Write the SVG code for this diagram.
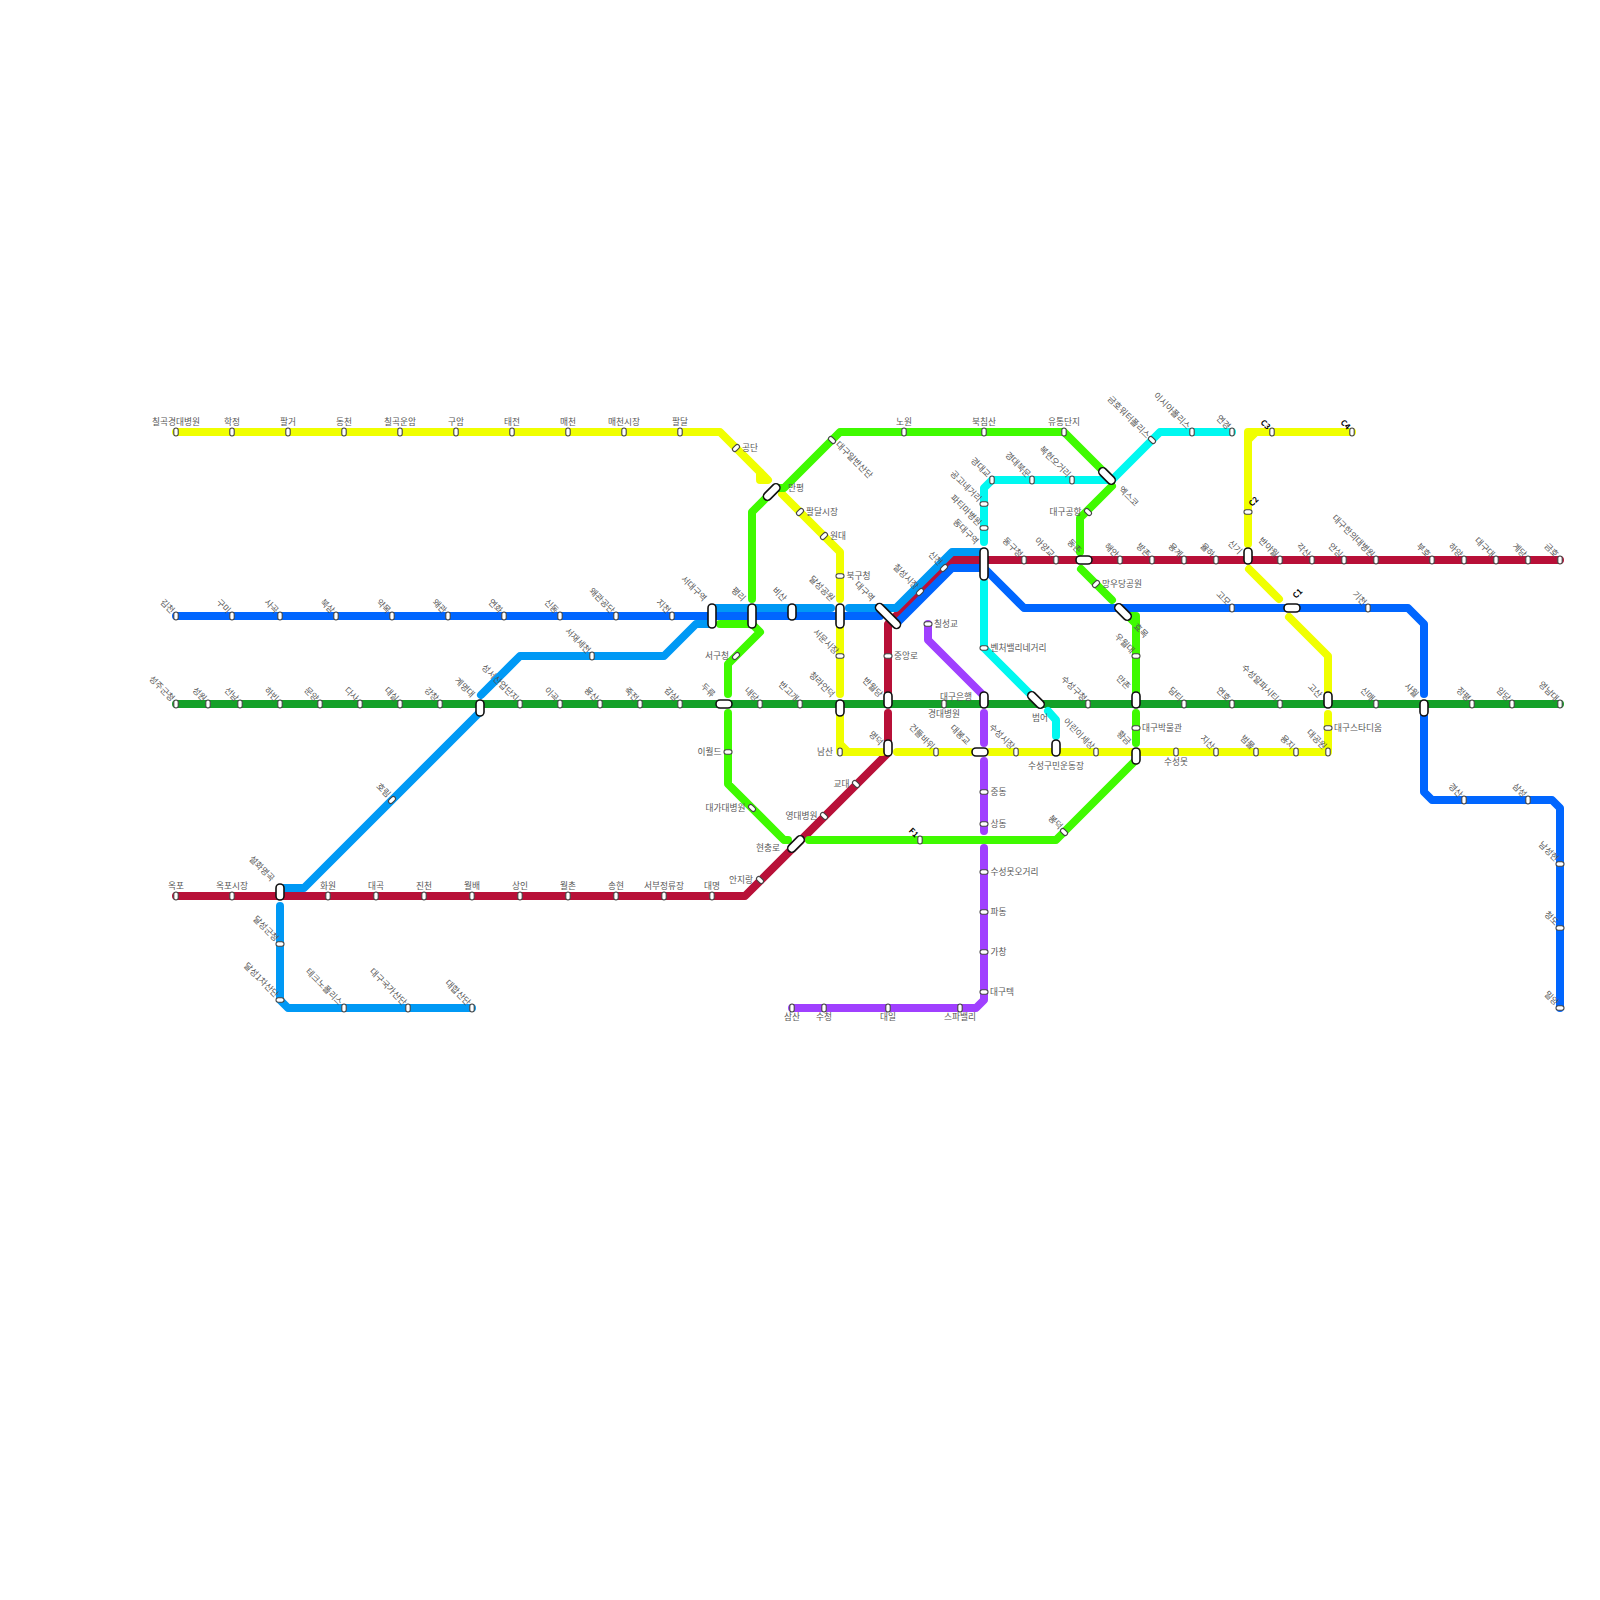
<svg xmlns="http://www.w3.org/2000/svg" width="1600" height="1600" viewBox="0 0 1600 1600">
<style>
text{font-family:"Noto Sans CJK KR","Noto Sans",sans-serif;font-size:8.7px;fill:#555;opacity:.99}
.m{text-anchor:middle}.e{text-anchor:end}
.k{fill:#000;font-weight:700;font-size:8px}
.ln{fill:none;stroke-width:8;stroke-linecap:round;stroke-linejoin:round}
.sm{fill:#fff;stroke:#444;stroke-width:1.1}
.ic{fill:#fff;stroke:#111;stroke-width:1.6}
</style>
<defs>
<rect id="s" class="sm" x="-2.2" y="-4" width="4.4" height="8" rx="2.2"/>
<rect id="p16" class="ic" x="-4" y="-8" width="8" height="16" rx="4"/>
<rect id="p20" class="ic" x="-4" y="-10" width="8" height="20" rx="4"/>
<rect id="p24" class="ic" x="-4" y="-12" width="8" height="24" rx="4"/>
<rect id="p32" class="ic" x="-4" y="-16" width="8" height="32" rx="4"/>
</defs>
<rect width="1600" height="1600" fill="#fff"/>
<g id="connectors">
<path class="ln" stroke="#b81038" d="M176 896H745L888 753V713M888 692V624L952 560H1560"/>
<path class="ln" stroke="#0099f5" d="M472 1008H288L280 1000V906M280 888H304L480 712M481 695L520 656H664L696 624H712M716 608H831M849 608H896L952 552H984"/>
<path class="ln" stroke="#0066ff" d="M176 616H880M896 624L952 568H984L1024 608H1408L1424 624V694M1424 716V792L1432 800H1552L1560 808V1008"/>
<path class="ln" stroke="#14a028" d="M176 704H1560"/>
<path class="ln" stroke="#f0ff00" d="M176 432H720L768 480H760V472M782 494L840 552V599M840 626V694M840 716V744L848 752H840V744M848 752H882M897 752H970M990 752H1328V714M1328 692V656L1289 617M1279 599L1249 569M1248 544V440L1256 432H1352M1256 432H1248V440"/>
<path class="ln" stroke="#3ffa00" d="M752 599V512L772 492M776 488H784L840 432H1064L1108 476M1112 486L1080 518V552M1081 569L1112 600M1136 692V616H1128L1136 624V692M1136 713V743M1136 760L1056 840H809M788 840H784L728 784V713M728 694V664L760 632L752 624H720"/>
<path class="ln" stroke="#00f8f0" d="M1232 432H1160L1112 480H992L984 488V542M984 582V648L1032 696M1048 711L1056 720V736"/>
<path class="ln" stroke="#a040ff" d="M928 624V640L982 694M984 713V743M984 761V831M984 848V1000L976 1008H792"/>
</g>
<g id="stations">
<g id="n1"><use href="#s" x="176" y="432"/><text class="m" x="176" y="425">칠곡경대병원</text></g>
<g id="n2"><use href="#s" x="232" y="432"/><text class="m" x="232" y="425">학정</text></g>
<g id="n3"><use href="#s" x="288" y="432"/><text class="m" x="288" y="425">팔거</text></g>
<g id="n4"><use href="#s" x="344" y="432"/><text class="m" x="344" y="425">동천</text></g>
<g id="n5"><use href="#s" x="400" y="432"/><text class="m" x="400" y="425">칠곡운암</text></g>
<g id="n6"><use href="#s" x="456" y="432"/><text class="m" x="456" y="425">구암</text></g>
<g id="n7"><use href="#s" x="512" y="432"/><text class="m" x="512" y="425">태전</text></g>
<g id="n8"><use href="#s" x="568" y="432"/><text class="m" x="568" y="425">매천</text></g>
<g id="n9"><use href="#s" x="624" y="432"/><text class="m" x="624" y="425">매천시장</text></g>
<g id="n10"><use href="#s" x="680" y="432"/><text class="m" x="680" y="425">팔달</text></g>
<g id="n11"><use href="#s" transform="translate(736 448) rotate(45)"/><text x="742" y="451">공단</text></g>
<g id="n12"><use href="#p20" transform="translate(771.7 492) rotate(45)"/><text x="788" y="491">만평</text></g>
<g id="n13"><use href="#s" transform="translate(800 512) rotate(45)"/><text x="806" y="515">팔달시장</text></g>
<g id="n14"><use href="#s" transform="translate(824 536) rotate(45)"/><text x="830" y="539">원대</text></g>
<g id="n15"><use href="#s" transform="translate(840 576) rotate(90)"/><text x="846.5" y="579">북구청</text></g>
<g id="n16"><use href="#p24" x="840" y="616"/><text class="e" transform="translate(831 602) rotate(45)">달성공원</text></g>
<g id="n17"><use href="#s" transform="translate(840 656) rotate(90)"/><text class="e" transform="translate(835 655) rotate(45)">서문시장</text></g>
<g id="n18"><use href="#p16" x="840" y="708"/><text class="e" transform="translate(831 698) rotate(45)">청라언덕</text></g>
<g id="n19"><use href="#s" x="840" y="752"/><text class="e" x="833" y="755">남산</text></g>
<g id="n20"><use href="#p16" x="888" y="748"/><text class="e" transform="translate(879.5 746) rotate(45)">명덕</text></g>
<g id="n21"><use href="#s" x="936" y="752"/><text class="e" transform="translate(931 750) rotate(45)">건들바위</text></g>
<g id="n22"><use href="#p16" transform="translate(980 752) rotate(90)"/><text class="e" transform="translate(966.5 745.5) rotate(45)">대봉교</text></g>
<g id="n23"><use href="#s" x="1016" y="752"/><text class="e" transform="translate(1011 750) rotate(45)">수성시장</text></g>
<g id="n24"><use href="#p16" x="1056" y="748"/><text class="m" x="1056" y="769">수성구민운동장</text></g>
<g id="n25"><use href="#s" x="1096" y="752"/><text class="e" transform="translate(1091 750) rotate(45)">어린이세상</text></g>
<g id="n26"><use href="#p16" x="1136" y="756"/><text class="e" transform="translate(1127.5 745.5) rotate(45)">황금</text></g>
<g id="n27"><use href="#s" x="1176" y="752"/><text class="m" x="1176" y="765">수성못</text></g>
<g id="n28"><use href="#s" x="1216" y="752"/><text class="e" transform="translate(1211 750) rotate(45)">지산</text></g>
<g id="n29"><use href="#s" x="1256" y="752"/><text class="e" transform="translate(1251 750) rotate(45)">범물</text></g>
<g id="n30"><use href="#s" x="1296" y="752"/><text class="e" transform="translate(1291 750) rotate(45)">용지</text></g>
<g id="n31"><use href="#s" x="1328" y="752"/><text class="e" transform="translate(1323 750) rotate(45)">대공원</text></g>
<g id="n32"><use href="#s" transform="translate(1328 728) rotate(90)"/><text x="1334" y="731">대구스타디움</text></g>
<g id="n33"><use href="#p16" x="1328" y="700"/><text class="e" transform="translate(1318.5 698.5) rotate(45)">고산</text></g>
<g id="n34"><use href="#p16" transform="translate(1292 608) rotate(90)"/><text class="k" transform="translate(1296 599) rotate(-45)">C1</text></g>
<g id="n35"><use href="#p16" x="1248" y="556"/><text class="e" transform="translate(1238.5 555) rotate(45)">신기</text></g>
<g id="n36"><use href="#s" transform="translate(1248 512) rotate(90)"/><text class="k" transform="translate(1252 507) rotate(-45)">C2</text></g>
<g id="n37"><use href="#s" x="1272" y="432"/><text class="k e" transform="translate(1267 430) rotate(45)">C3</text></g>
<g id="n38"><use href="#s" x="1352" y="432"/><text class="k e" transform="translate(1347 430) rotate(45)">C4</text></g>
<g id="n40"><use href="#s" x="176" y="616"/><text class="e" transform="translate(171 614) rotate(45)">김천</text></g>
<g id="n41"><use href="#s" x="232" y="616"/><text class="e" transform="translate(227 614) rotate(45)">구미</text></g>
<g id="n42"><use href="#s" x="280" y="616"/><text class="e" transform="translate(275 614) rotate(45)">사곡</text></g>
<g id="n43"><use href="#s" x="336" y="616"/><text class="e" transform="translate(331 614) rotate(45)">북삼</text></g>
<g id="n44"><use href="#s" x="392" y="616"/><text class="e" transform="translate(387 614) rotate(45)">약목</text></g>
<g id="n45"><use href="#s" x="448" y="616"/><text class="e" transform="translate(443 614) rotate(45)">왜관</text></g>
<g id="n46"><use href="#s" x="504" y="616"/><text class="e" transform="translate(499 614) rotate(45)">연화</text></g>
<g id="n47"><use href="#s" x="560" y="616"/><text class="e" transform="translate(555 614) rotate(45)">신동</text></g>
<g id="n48"><use href="#s" x="616" y="616"/><text class="e" transform="translate(611 614) rotate(45)">왜관공단</text></g>
<g id="n49"><use href="#s" x="672" y="616"/><text class="e" transform="translate(667 614) rotate(45)">지천</text></g>
<g id="n50"><use href="#p24" x="712" y="616"/><text class="e" transform="translate(703 602) rotate(45)">서대구역</text></g>
<g id="n51"><use href="#p24" x="752" y="616"/><text class="e" transform="translate(742 602) rotate(45)">평리</text></g>
<g id="n52"><use href="#p16" x="792" y="612"/><text class="e" transform="translate(783 602) rotate(45)">비산</text></g>
<g id="n53"><use href="#p32" transform="translate(888 616) rotate(-45)"/><text class="e" transform="translate(871 602) rotate(45)">대구역</text></g>
<g id="n54"><use href="#s" transform="translate(920 592) rotate(45)"/><text class="e" transform="translate(915 590) rotate(45)">칠성시장</text></g>
<g id="n55"><use href="#s" transform="translate(944 568) rotate(45)"/><text class="e" transform="translate(939 566) rotate(45)">신천</text></g>
<g id="n56"><use href="#p32" x="984" y="564"/><text class="e" transform="translate(975 545) rotate(45)">동대구역</text></g>
<g id="n57"><use href="#s" x="1024" y="560"/><text class="e" transform="translate(1019 558) rotate(45)">동구청</text></g>
<g id="n58"><use href="#s" x="1056" y="560"/><text class="e" transform="translate(1051 558) rotate(45)">아양교</text></g>
<g id="n59"><use href="#p16" transform="translate(1084 560) rotate(90)"/><text class="e" transform="translate(1078 554) rotate(45)">동촌</text></g>
<g id="n60"><use href="#s" x="1120" y="560"/><text class="e" transform="translate(1115 558) rotate(45)">해안</text></g>
<g id="n61"><use href="#s" x="1152" y="560"/><text class="e" transform="translate(1147 558) rotate(45)">방촌</text></g>
<g id="n62"><use href="#s" x="1184" y="560"/><text class="e" transform="translate(1179 558) rotate(45)">용계</text></g>
<g id="n63"><use href="#s" x="1216" y="560"/><text class="e" transform="translate(1211 558) rotate(45)">율하</text></g>
<g id="n64"><use href="#s" x="1280" y="560"/><text class="e" transform="translate(1275 558) rotate(45)">반야월</text></g>
<g id="n65"><use href="#s" x="1312" y="560"/><text class="e" transform="translate(1307 558) rotate(45)">각산</text></g>
<g id="n66"><use href="#s" x="1344" y="560"/><text class="e" transform="translate(1339 558) rotate(45)">안심</text></g>
<g id="n67"><use href="#s" x="1376" y="560"/><text class="e" transform="translate(1371 558) rotate(45)">대구한의대병원</text></g>
<g id="n68"><use href="#s" x="1432" y="560"/><text class="e" transform="translate(1427 558) rotate(45)">부호</text></g>
<g id="n69"><use href="#s" x="1464" y="560"/><text class="e" transform="translate(1459 558) rotate(45)">하양</text></g>
<g id="n70"><use href="#s" x="1496" y="560"/><text class="e" transform="translate(1491 558) rotate(45)">대구대</text></g>
<g id="n71"><use href="#s" x="1528" y="560"/><text class="e" transform="translate(1523 558) rotate(45)">계당</text></g>
<g id="n72"><use href="#s" x="1560" y="560"/><text class="e" transform="translate(1555 558) rotate(45)">금호</text></g>
<g id="n73"><use href="#s" x="1232" y="608"/><text class="e" transform="translate(1227 606) rotate(45)">고모</text></g>
<g id="n74"><use href="#s" x="1368" y="608"/><text class="e" transform="translate(1363 606) rotate(45)">기천</text></g>
<g id="n75"><use href="#p16" x="1424" y="708"/><text class="e" transform="translate(1415 698) rotate(45)">사월</text></g>
<g id="n76"><use href="#s" x="1464" y="800"/><text class="e" transform="translate(1459 798) rotate(45)">경산</text></g>
<g id="n77"><use href="#s" x="1528" y="800"/><text class="e" transform="translate(1523 798) rotate(45)">삼성</text></g>
<g id="n78"><use href="#s" transform="translate(1560 864) rotate(90)"/><text class="e" transform="translate(1555 862) rotate(45)">남성현</text></g>
<g id="n79"><use href="#s" transform="translate(1560 928) rotate(90)"/><text class="e" transform="translate(1555 926) rotate(45)">청도</text></g>
<g id="n80"><use href="#s" transform="translate(1560 1008) rotate(90)"/><text class="e" transform="translate(1555 1006) rotate(45)">밀양</text></g>
<g id="n81"><use href="#s" x="176" y="704"/><text class="e" transform="translate(171 702) rotate(45)">성주군청</text></g>
<g id="n82"><use href="#s" x="208" y="704"/><text class="e" transform="translate(203 702) rotate(45)">성원</text></g>
<g id="n83"><use href="#s" x="240" y="704"/><text class="e" transform="translate(235 702) rotate(45)">선남</text></g>
<g id="n84"><use href="#s" x="280" y="704"/><text class="e" transform="translate(275 702) rotate(45)">하빈</text></g>
<g id="n85"><use href="#s" x="320" y="704"/><text class="e" transform="translate(315 702) rotate(45)">문양</text></g>
<g id="n86"><use href="#s" x="360" y="704"/><text class="e" transform="translate(355 702) rotate(45)">다사</text></g>
<g id="n87"><use href="#s" x="400" y="704"/><text class="e" transform="translate(395 702) rotate(45)">대실</text></g>
<g id="n88"><use href="#s" x="440" y="704"/><text class="e" transform="translate(435 702) rotate(45)">강창</text></g>
<g id="n89"><use href="#p16" x="480" y="708"/><text class="e" transform="translate(471 698) rotate(45)">계명대</text></g>
<g id="n90"><use href="#s" x="520" y="704"/><text class="e" transform="translate(515 702) rotate(45)">성서산업단지</text></g>
<g id="n91"><use href="#s" x="560" y="704"/><text class="e" transform="translate(555 702) rotate(45)">이곡</text></g>
<g id="n92"><use href="#s" x="600" y="704"/><text class="e" transform="translate(595 702) rotate(45)">용산</text></g>
<g id="n93"><use href="#s" x="640" y="704"/><text class="e" transform="translate(635 702) rotate(45)">죽전</text></g>
<g id="n94"><use href="#s" x="680" y="704"/><text class="e" transform="translate(675 702) rotate(45)">감삼</text></g>
<g id="n95"><use href="#p16" transform="translate(724 704) rotate(90)"/><text class="e" transform="translate(711.5 698) rotate(45)">두류</text></g>
<g id="n96"><use href="#s" x="760" y="704"/><text class="e" transform="translate(755 702) rotate(45)">내당</text></g>
<g id="n97"><use href="#s" x="800" y="704"/><text class="e" transform="translate(795 702) rotate(45)">반고개</text></g>
<g id="n98"><use href="#p16" x="888" y="700"/><text class="e" transform="translate(879 698) rotate(45)">반월당</text></g>
<g id="n99"><use href="#s" x="944" y="704"/><text class="m" x="944" y="717">경대병원</text></g>
<g id="n100"><use href="#p16" x="984" y="700"/><text class="m" x="956" y="699.5">대구은행</text></g>
<g id="n101"><use href="#p20" transform="translate(1036 700) rotate(-45)"/><text class="m" x="1040" y="721">범어</text></g>
<g id="n102"><use href="#s" x="1088" y="704"/><text class="e" transform="translate(1083 702) rotate(45)">수성구청</text></g>
<g id="n103"><use href="#p16" x="1136" y="700"/><text class="e" transform="translate(1127 690) rotate(45)">만촌</text></g>
<g id="n104"><use href="#s" x="1184" y="704"/><text class="e" transform="translate(1179 702) rotate(45)">담티</text></g>
<g id="n105"><use href="#s" x="1232" y="704"/><text class="e" transform="translate(1227 702) rotate(45)">연호</text></g>
<g id="n106"><use href="#s" x="1280" y="704"/><text class="e" transform="translate(1275 702) rotate(45)">수성알파시티</text></g>
<g id="n107"><use href="#s" x="1376" y="704"/><text class="e" transform="translate(1371 702) rotate(45)">신매</text></g>
<g id="n108"><use href="#s" x="1472" y="704"/><text class="e" transform="translate(1467 702) rotate(45)">정평</text></g>
<g id="n109"><use href="#s" x="1512" y="704"/><text class="e" transform="translate(1507 702) rotate(45)">임당</text></g>
<g id="n110"><use href="#s" x="1560" y="704"/><text class="e" transform="translate(1555 702) rotate(45)">영남대</text></g>
<g id="n111"><use href="#s" x="176" y="896"/><text class="m" x="176" y="889">옥포</text></g>
<g id="n112"><use href="#s" x="232" y="896"/><text class="m" x="232" y="889">옥포시장</text></g>
<g id="n113"><use href="#p16" x="280" y="892"/><text class="e" transform="translate(271 882) rotate(45)">설화명곡</text></g>
<g id="n114"><use href="#s" x="328" y="896"/><text class="m" x="328" y="889">화원</text></g>
<g id="n115"><use href="#s" x="376" y="896"/><text class="m" x="376" y="889">대곡</text></g>
<g id="n116"><use href="#s" x="424" y="896"/><text class="m" x="424" y="889">진천</text></g>
<g id="n117"><use href="#s" x="472" y="896"/><text class="m" x="472" y="889">월배</text></g>
<g id="n118"><use href="#s" x="520" y="896"/><text class="m" x="520" y="889">상인</text></g>
<g id="n119"><use href="#s" x="568" y="896"/><text class="m" x="568" y="889">월촌</text></g>
<g id="n120"><use href="#s" x="616" y="896"/><text class="m" x="616" y="889">송현</text></g>
<g id="n121"><use href="#s" x="664" y="896"/><text class="m" x="664" y="889">서부정류장</text></g>
<g id="n122"><use href="#s" x="712" y="896"/><text class="m" x="712" y="889">대명</text></g>
<g id="n123"><use href="#s" transform="translate(760 880) rotate(-45)"/><text class="e" x="753" y="883">안지랑</text></g>
<g id="n124"><use href="#p20" transform="translate(796 844) rotate(45)"/><text class="e" x="780" y="851">현충로</text></g>
<g id="n125"><use href="#s" transform="translate(824 816) rotate(-45)"/><text class="e" x="817.5" y="819">영대병원</text></g>
<g id="n126"><use href="#s" transform="translate(856 784) rotate(-45)"/><text class="e" x="849.5" y="787">교대</text></g>
<g id="n127"><use href="#s" transform="translate(888 656) rotate(90)"/><text x="894" y="659">중앙로</text></g>
<g id="n130"><use href="#s" transform="translate(280 944) rotate(90)"/><text class="e" transform="translate(275 942) rotate(45)">달성군청</text></g>
<g id="n131"><use href="#s" transform="translate(280 1000) rotate(90)"/><text class="e" transform="translate(275 998) rotate(45)">달성1차산단</text></g>
<g id="n132"><use href="#s" x="344" y="1008"/><text class="e" transform="translate(339 1006) rotate(45)">테크노폴리스</text></g>
<g id="n133"><use href="#s" x="408" y="1008"/><text class="e" transform="translate(403 1006) rotate(45)">대구국가산단</text></g>
<g id="n134"><use href="#s" x="472" y="1008"/><text class="e" transform="translate(467 1006) rotate(45)">대합산단</text></g>
<g id="n135"><use href="#s" transform="translate(392 800) rotate(45)"/><text class="e" transform="translate(387 798) rotate(45)">호림</text></g>
<g id="n136"><use href="#s" x="592" y="656"/><text class="e" transform="translate(587 654) rotate(45)">서재세천</text></g>
<g id="n140"><use href="#s" transform="translate(832 440) rotate(-45)"/><text transform="translate(835 445) rotate(45)">대구일반산단</text></g>
<g id="n141"><use href="#s" x="904" y="432"/><text class="m" x="904" y="425">노원</text></g>
<g id="n142"><use href="#s" x="984" y="432"/><text class="m" x="984" y="425">북침산</text></g>
<g id="n143"><use href="#s" x="1064" y="432"/><text class="m" x="1064" y="425">유통단지</text></g>
<g id="n144"><use href="#p20" transform="translate(1107 476) rotate(-45)"/><text transform="translate(1118 490) rotate(45)">엑스코</text></g>
<g id="n145"><use href="#s" transform="translate(1088 512) rotate(-45)"/><text class="e" x="1081.5" y="515">대구공항</text></g>
<g id="n146"><use href="#s" transform="translate(1096 584) rotate(45)"/><text x="1102" y="587">망우당공원</text></g>
<g id="n147"><use href="#p20" transform="translate(1123 612) rotate(-45)"/><text transform="translate(1133 627) rotate(45)">효목</text></g>
<g id="n148"><use href="#s" transform="translate(1136 656) rotate(90)"/><text class="e" transform="translate(1131 654) rotate(45)">우월대</text></g>
<g id="n149"><use href="#s" transform="translate(1136 728) rotate(90)"/><text x="1142" y="731">대구박물관</text></g>
<g id="n150"><use href="#s" transform="translate(1064 832) rotate(-45)"/><text class="e" transform="translate(1059 830) rotate(45)">봉덕</text></g>
<g id="n151"><use href="#s" x="920" y="840"/><text class="k e" transform="translate(915 838) rotate(45)">F1</text></g>
<g id="n152"><use href="#s" transform="translate(752 808) rotate(-45)"/><text class="e" x="745.5" y="811">대가대병원</text></g>
<g id="n153"><use href="#s" transform="translate(728 752) rotate(90)"/><text class="e" x="721.5" y="755">이월드</text></g>
<g id="n154"><use href="#s" transform="translate(736 656) rotate(45)"/><text class="e" x="729" y="659">서구청</text></g>
<g id="n160"><use href="#s" x="1232" y="432"/><text class="e" transform="translate(1227 430) rotate(45)">연경</text></g>
<g id="n161"><use href="#s" x="1192" y="432"/><text class="e" transform="translate(1187 430) rotate(45)">이시아폴리스</text></g>
<g id="n162"><use href="#s" transform="translate(1152 440) rotate(-45)"/><text class="e" transform="translate(1146.5 439) rotate(45)">금호워터폴리스</text></g>
<g id="n163"><use href="#s" x="1072" y="480"/><text class="e" transform="translate(1067 478) rotate(45)">복현오거리</text></g>
<g id="n164"><use href="#s" x="1032" y="480"/><text class="e" transform="translate(1027 478) rotate(45)">경대북문</text></g>
<g id="n165"><use href="#s" x="992" y="480"/><text class="e" transform="translate(987 478) rotate(45)">경대교</text></g>
<g id="n166"><use href="#s" transform="translate(984 504) rotate(90)"/><text class="e" transform="translate(978 502.5) rotate(45)">공고네거리</text></g>
<g id="n167"><use href="#s" transform="translate(984 528) rotate(90)"/><text class="e" transform="translate(978 526.5) rotate(45)">파티마병원</text></g>
<g id="n168"><use href="#s" transform="translate(984 648) rotate(90)"/><text x="990.5" y="651">벤처밸리네거리</text></g>
<g id="n170"><use href="#s" transform="translate(928 624) rotate(90)"/><text x="934" y="627">칠성교</text></g>
<g id="n171"><use href="#s" transform="translate(984 792) rotate(90)"/><text x="990.5" y="795">중동</text></g>
<g id="n172"><use href="#s" transform="translate(984 824) rotate(90)"/><text x="990.5" y="827">상동</text></g>
<g id="n173"><use href="#s" transform="translate(984 872) rotate(90)"/><text x="990.5" y="875">수성못오거리</text></g>
<g id="n174"><use href="#s" transform="translate(984 912) rotate(90)"/><text x="990.5" y="915">파동</text></g>
<g id="n175"><use href="#s" transform="translate(984 952) rotate(90)"/><text x="990.5" y="955">가창</text></g>
<g id="n176"><use href="#s" transform="translate(984 992) rotate(90)"/><text x="990" y="995">대구텍</text></g>
<g id="n177"><use href="#s" x="960" y="1008"/><text class="m" x="960" y="1020">스파밸리</text></g>
<g id="n178"><use href="#s" x="888" y="1008"/><text class="m" x="888" y="1020">대일</text></g>
<g id="n179"><use href="#s" x="824" y="1008"/><text class="m" x="824" y="1020">수청</text></g>
<g id="n180"><use href="#s" x="792" y="1008"/><text class="m" x="792" y="1020">삼산</text></g>
</g>
</svg>
